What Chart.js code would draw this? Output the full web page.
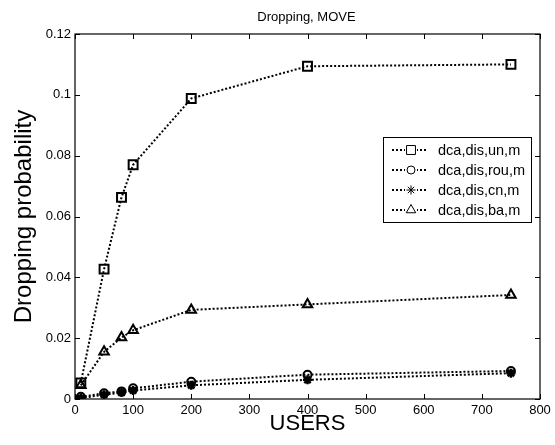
<!DOCTYPE html>
<html>
<head>
<meta charset="utf-8">
<script src="https://cdn.jsdelivr.net/npm/chart.js@4/dist/chart.umd.min.js"></script>
<style>
  html, body { margin: 0; padding: 0; background: #fff; }
  canvas { display: block; }
</style>
</head>
<body>
<canvas id="drop" width="555" height="445"></canvas>
<script>
// users on the x axis
const users = [10, 50, 80, 100, 200, 400, 750];

// dropping probability per scheme
const unM  = [0.0053, 0.0427, 0.0663, 0.0770, 0.0988, 0.1094, 0.1100];
const rouM = [0.0007, 0.0019, 0.0025, 0.0035, 0.0057, 0.0080, 0.0092];
const cnM  = [0.0003, 0.0014, 0.0021, 0.0028, 0.0045, 0.0063, 0.0085];
const baM  = [0.0045, 0.0155, 0.0202, 0.0226, 0.0293, 0.0311, 0.0342];

const seriesNames = ['dca,dis,un,m', 'dca,dis,rou,m', 'dca,dis,cn,m', 'dca,dis,ba,m'];
const seriesValues = [unM, rouM, cnM, baM];
const markers = ['rect', 'circle', 'star', 'triangle'];

const xTicks = [0, 100, 200, 300, 400, 500, 600, 700, 800];
const yTicks = [0, 0.02, 0.04, 0.06, 0.08, 0.1, 0.12];

const FONT = '"Liberation Sans", Arial, sans-serif';

function markerRadius(style) {
  if (style === 'rect') return 6.3;
  if (style === 'triangle') return 5.5;
  if (style === 'circle') return 4;
  return 4.5;
}

const datasets = seriesNames.map((name, i) => ({
  label: name,
  data: users.map((u, j) => ({ x: u, y: seriesValues[i][j] })),
  borderColor: '#000',
  borderWidth: 2,
  borderDash: [2, 2],
  tension: 0,
  fill: false,
  pointStyle: markers[i],
  pointRadius: markerRadius(markers[i]),
  pointBorderWidth: markers[i] === 'star' ? 2.5 : 2,
  pointBorderColor: '#000',
  pointBackgroundColor: markers[i] === 'star' ? '#000' : 'rgba(0,0,0,0)'
}));

// matlab style box, inward ticks, title and legend
const matlabFrame = {
  id: 'matlabFrame',
  afterDraw(chart) {
    const ctx = chart.ctx;
    const a = chart.chartArea;
    const xs = chart.scales.x;
    const ys = chart.scales.y;
    ctx.save();
    ctx.strokeStyle = '#000';
    ctx.lineWidth = 1.2;
    ctx.setLineDash([]);
    ctx.strokeRect(a.left, a.top, a.right - a.left, a.bottom - a.top);

    ctx.beginPath();
    xTicks.forEach(t => {
      const px = Math.round(xs.getPixelForValue(t)) + 0.5;
      ctx.moveTo(px, a.bottom); ctx.lineTo(px, a.bottom - 5);
      ctx.moveTo(px, a.top); ctx.lineTo(px, a.top + 5);
    });
    yTicks.forEach(t => {
      const py = Math.round(ys.getPixelForValue(t)) + 0.5;
      ctx.moveTo(a.left, py); ctx.lineTo(a.left + 5, py);
      ctx.moveTo(a.right, py); ctx.lineTo(a.right - 5, py);
    });
    ctx.lineWidth = 1;
    ctx.stroke();

    // title
    ctx.fillStyle = '#000';
    ctx.font = '13px ' + FONT;
    ctx.textAlign = 'center';
    ctx.textBaseline = 'middle';
    ctx.fillText('Dropping, MOVE', (a.left + a.right) / 2 - 1, 17);

    // legend
    const lw = 148, lh = 85;
    const lx = a.right - 9 - lw;
    const ly = a.top + 103;
    ctx.fillStyle = '#fff';
    ctx.fillRect(lx, ly, lw, lh);
    ctx.strokeStyle = '#000';
    ctx.lineWidth = 1;
    ctx.strokeRect(lx + 0.5, ly + 0.5, lw, lh);
    chart.data.datasets.forEach((ds, i) => {
      const cy = ly + 13 + i * 20;
      ctx.save();
      ctx.setLineDash([2, 2]);
      ctx.lineWidth = 2;
      ctx.beginPath();
      ctx.moveTo(lx + 9, cy);
      ctx.lineTo(lx + 45, cy);
      ctx.stroke();
      ctx.restore();
      ctx.fillStyle = '#fff';
      ctx.fillRect(lx + 22, cy - 6, 12, 12);
      ctx.strokeStyle = '#000';
      ctx.fillStyle = ds.pointBackgroundColor;
      Chart.helpers.drawPoint(ctx, {
        pointStyle: ds.pointStyle,
        radius: ds.pointRadius,
        borderWidth: ds.pointBorderWidth,
        rotation: 0
      }, lx + 28, cy);
      ctx.fillStyle = '#000';
      ctx.font = '14.5px ' + FONT;
      ctx.textAlign = 'left';
      ctx.textBaseline = 'middle';
      ctx.fillText(ds.label, lx + 55, cy + 1);
    });
    ctx.restore();
  }
};

new Chart(document.getElementById('drop'), {
  type: 'line',
  data: { datasets: datasets },
  plugins: [matlabFrame],
  options: {
    responsive: false,
    animation: false,
    devicePixelRatio: 1,
    layout: { padding: { top: 34, right: 15, left: 0, bottom: 0 } },
    plugins: {
      legend: { display: false },
      tooltip: { enabled: false }
    },
    scales: {
      x: {
        type: 'linear',
        min: 0,
        max: 800,
        afterBuildTicks: s => { s.ticks = xTicks.map(v => ({ value: v })); },
        grid: { display: false, drawTicks: false },
        border: { display: false },
        ticks: { color: '#000', font: { family: FONT, size: 13 }, padding: 4, maxRotation: 0 },
        title: { display: true, text: 'USERS', color: '#000', font: { family: FONT, size: 22 }, padding: { top: 8, bottom: 8 } },
        afterFit: s => { s.height = 46; }
      },
      y: {
        type: 'linear',
        min: 0,
        max: 0.12,
        afterBuildTicks: s => { s.ticks = yTicks.map(v => ({ value: v })); },
        grid: { display: false, drawTicks: false },
        border: { display: false },
        ticks: {
          color: '#000',
          font: { family: FONT, size: 13 },
          padding: 4,
          callback: v => String(+v.toFixed(2))
        },
        title: { display: true, text: 'Dropping probability', color: '#000', font: { family: FONT, size: 24 }, padding: { top: 10, bottom: 0 } },
        afterFit: s => { s.width = 75; }
      }
    }
  }
});
</script>
</body>
</html>
